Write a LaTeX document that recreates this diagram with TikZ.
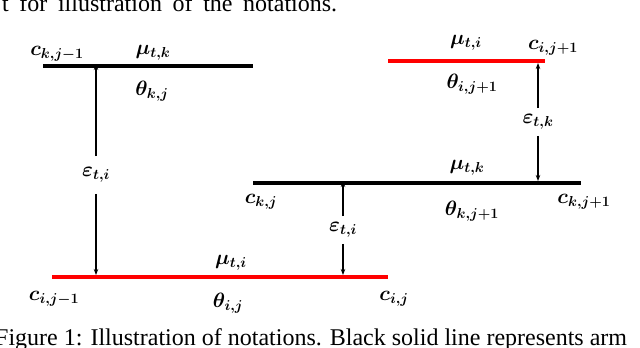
\documentclass[tikz,border=0pt]{standalone}
\usepackage{fontspec}
\setmainfont{Liberation Serif}
\usepackage{amsmath,bm}
\usetikzlibrary{arrows.meta}
\tikzset{
  armblack/.style={line width=4pt,black},
  armred/.style={line width=4pt,red},
  lab/.style={inner sep=0pt,font=\fontsize{20}{24}\selectfont},
  epslab/.style={inner xsep=2pt,inner ysep=6pt,font=\fontsize{20}{24}\selectfont},
  gap/.style={line width=1.3pt,-{Stealth[length=6pt,width=4.5pt]}},
  captxt/.style={inner sep=0pt,font=\fontsize{24}{28}\selectfont}
}
\begin{document}
\begin{tikzpicture}[x=1pt,y=-1pt]
\useasboundingbox (0,0) rectangle (640,348);
% lines
\coordinate (A1) at (43,66); \coordinate (A2) at (253,66);
\coordinate (B1) at (388,61); \coordinate (B2) at (545,61);
\coordinate (C1) at (253,183); \coordinate (C2) at (581,183);
\coordinate (D1) at (52,277); \coordinate (D2) at (388,277);
\draw[armblack] (A1) -- (A2);
\draw[armred] (B1) -- (B2);
\draw[armblack] (C1) -- (C2);
\draw[armred] (D1) -- (D2);
% arrow endpoints on lines
\coordinate (L1) at (96,64); \coordinate (L2) at (96,275);
\coordinate (M1) at (343,181); \coordinate (M2) at (343,275);
\coordinate (R1) at (538,63); \coordinate (R2) at (538,181);
% epsilon labels
\node[epslab,inner ysep=11pt] (e1) at (96,175) {$\boldsymbol{\varepsilon_{t,i}}$};
\node[epslab] (e2) at (343,230) {$\boldsymbol{\varepsilon_{t,i}}$};
\node[epslab] (e3) at (538,122) {$\boldsymbol{\varepsilon_{t,k}}$};
\draw[gap] (e1.north) -- (L1);
\draw[gap] (e1.south) -- (L2);
\draw[gap] (e2.north) -- (M1);
\draw[gap] (e2.south) -- (M2);
\draw[gap] (e3.north) -- (R1);
\draw[gap] (e3.south) -- (R2);
% labels
\node[lab] (ckjm) at (57,54) {$\boldsymbol{c_{k,j-1}}$};
\node[lab] (mutk1) at (153,53) {$\boldsymbol{\mu_{t,k}}$};
\node[lab] (thkj) at (152,91) {$\boldsymbol{\theta_{k,j}}$};
\node[lab] (muti1) at (466,43) {$\boldsymbol{\mu_{t,i}}$};
\node[lab] (cijp) at (553,48) {$\boldsymbol{c_{i,j+1}}$};
\node[lab] (thijp) at (472,84) {$\boldsymbol{\theta_{i,j+1}}$};
\node[lab] (mutk2) at (467,168) {$\boldsymbol{\mu_{t,k}}$};
\node[lab] (ckj) at (261,202) {$\boldsymbol{c_{k,j}}$};
\node[lab] (thkjp) at (472,211) {$\boldsymbol{\theta_{k,j+1}}$};
\node[lab] (ckjp) at (584,202) {$\boldsymbol{c_{k,j+1}}$};
\node[lab] (muti2) at (231,263) {$\boldsymbol{\mu_{t,i}}$};
\node[lab] (cijm) at (54,299) {$\boldsymbol{c_{i,j-1}}$};
\node[lab] (thij) at (228,303) {$\boldsymbol{\theta_{i,j}}$};
\node[lab] (cij) at (394,299) {$\boldsymbol{c_{i,j}}$};
% caption fragments
\node[captxt,anchor=base west] (toptxt) at (2,11) {\makebox[335pt][s]{t for illustration of the notations.}};
\node[captxt,anchor=base west] (cap) at (-5,345) {Figure 1: Illustration of notations. Black solid line represents arm};
\end{tikzpicture}
\end{document}
